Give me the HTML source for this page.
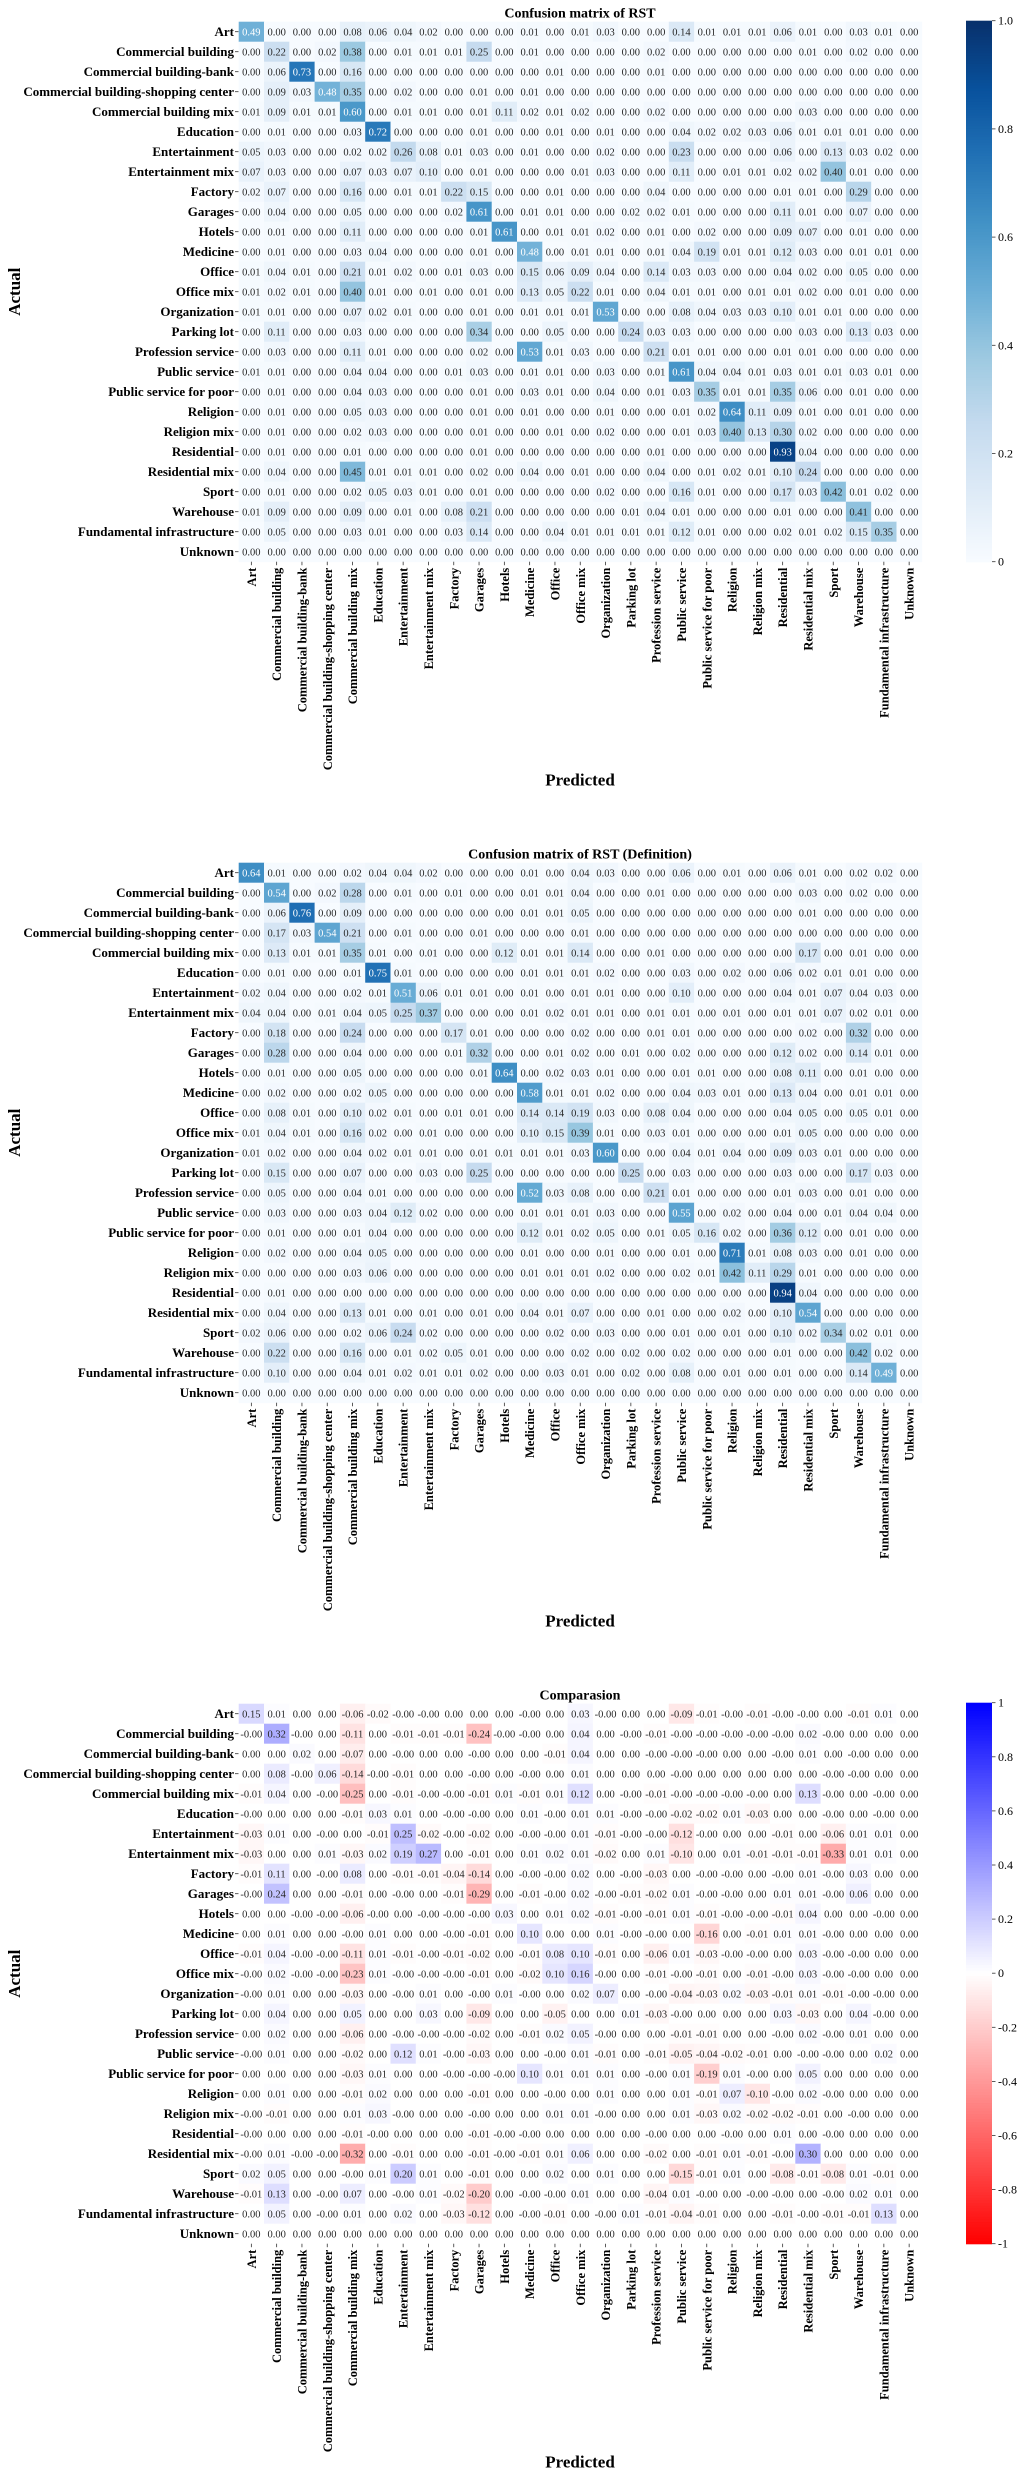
<!DOCTYPE html>
<html><head><meta charset="utf-8"><style>
html,body{margin:0;padding:0;background:#fff;}
svg{display:block;font-family:"Liberation Serif",serif;}
</style></head><body>
<svg id="chart" width="1026" height="2480" viewBox="0 0 1026 2480" xmlns="http://www.w3.org/2000/svg"></svg>
<script>
const categories=["Art","Commercial building","Commercial building-bank","Commercial building-shopping center","Commercial building mix","Education","Entertainment","Entertainment mix","Factory","Garages","Hotels","Medicine","Office","Office mix","Organization","Parking lot","Profession service","Public service","Public service for poor","Religion","Religion mix","Residential","Residential mix","Sport","Warehouse","Fundamental infrastructure","Unknown"];
const titles=["Confusion matrix of RST","Confusion matrix of RST (Definition)","Comparasion"];
const blueTicks=[0,0.2,0.4,0.6,0.8,1.0];
const blueTickLabels=["0","0.2","0.4","0.6","0.8","1.0"];
const bwrTicks=[-1,-0.8,-0.6,-0.4,-0.2,0,0.2,0.4,0.6,0.8,1];
const bwrTickLabels=["-1","-0.8","-0.6","-0.4","-0.2","0","0.2","0.4","0.6","0.8","1"];
const Z=[0,0,0,0,0,0,0,0,0,0,0,0,0,0,0,0,0,0,0,0,0,0,0,0,0,0,0];
const rst=[
[0.49,0,0,0,0.08,0.06,0.04,0.02,0,0,0,0.01,0,0.01,0.03,0,0,0.14,0.01,0.01,0.01,0.06,0.01,0,0.03,0.01,0],
[0,0.22,0,0.02,0.38,0,0.01,0.01,0.01,0.25,0,0.01,0,0,0,0,0.02,0,0,0,0,0,0.01,0,0.02,0,0],
[0,0.06,0.73,0,0.16,0,0,0,0,0,0,0,0.01,0,0,0,0.01,0,0,0,0,0,0,0,0,0,0],
[0,0.09,0.03,0.48,0.35,0,0.02,0,0,0.01,0,0.01,0,0,0,0,0,0,0,0,0,0,0,0,0,0,0],
[0.01,0.09,0.01,0.01,0.60,0,0.01,0.01,0,0.01,0.11,0.02,0.01,0.02,0,0,0.02,0,0,0,0,0,0.03,0,0,0,0],
[0,0.01,0,0,0.03,0.72,0,0,0,0.01,0,0,0.01,0,0.01,0,0,0.04,0.02,0.02,0.03,0.06,0.01,0.01,0.01,0,0],
[0.05,0.03,0,0,0.02,0.02,0.26,0.08,0.01,0.03,0,0.01,0,0,0.02,0,0,0.23,0,0,0,0.06,0,0.13,0.03,0.02,0],
[0.07,0.03,0,0,0.07,0.03,0.07,0.10,0,0.01,0,0,0,0.01,0.03,0,0,0.11,0,0.01,0.01,0.02,0.02,0.40,0.01,0,0],
[0.02,0.07,0,0,0.16,0,0.01,0.01,0.22,0.15,0,0,0.01,0,0,0,0.04,0,0,0,0,0.01,0.01,0,0.29,0,0],
[0,0.04,0,0,0.05,0,0,0,0.02,0.61,0,0.01,0.01,0,0,0.02,0.02,0.01,0,0,0,0.11,0.01,0,0.07,0,0],
[0,0.01,0,0,0.11,0,0,0,0,0.01,0.61,0,0.01,0.01,0.02,0,0.01,0,0.02,0,0,0.09,0.07,0,0.01,0,0],
[0,0.01,0,0,0.03,0.04,0,0,0,0.01,0,0.48,0,0.01,0.01,0,0.01,0.04,0.19,0.01,0.01,0.12,0.03,0,0.01,0.01,0],
[0.01,0.04,0.01,0,0.21,0.01,0.02,0,0.01,0.03,0,0.15,0.06,0.09,0.04,0,0.14,0.03,0.03,0,0,0.04,0.02,0,0.05,0,0],
[0.01,0.02,0.01,0,0.40,0.01,0,0.01,0,0.01,0,0.13,0.05,0.22,0.01,0,0.04,0.01,0.01,0,0.01,0.01,0.02,0,0.01,0,0],
[0.01,0.01,0,0,0.07,0.02,0.01,0,0,0.01,0,0.01,0.01,0.01,0.53,0,0,0.08,0.04,0.03,0.03,0.10,0.01,0.01,0,0,0],
[0,0.11,0,0,0.03,0,0,0,0,0.34,0,0,0.05,0,0,0.24,0.03,0.03,0,0,0,0,0.03,0,0.13,0.03,0],
[0,0.03,0,0,0.11,0.01,0,0,0,0.02,0,0.53,0.01,0.03,0,0,0.21,0.01,0.01,0,0,0.01,0.01,0,0,0,0],
[0.01,0.01,0,0,0.04,0.04,0,0,0.01,0.03,0,0.01,0.01,0,0.03,0,0.01,0.61,0.04,0.04,0.01,0.03,0.01,0.01,0.03,0.01,0],
[0,0.01,0,0,0.04,0.03,0,0,0,0.01,0,0.03,0.01,0,0.04,0,0.01,0.03,0.35,0.01,0.01,0.35,0.06,0,0.01,0,0],
[0,0.01,0,0,0.05,0.03,0,0,0,0.01,0,0.01,0,0,0.01,0,0,0.01,0.02,0.64,0.11,0.09,0.01,0,0.01,0,0],
[0,0.01,0,0,0.02,0.03,0,0,0,0.01,0,0,0.01,0,0.02,0,0,0.01,0.03,0.40,0.13,0.30,0.02,0,0,0,0],
[0,0.01,0,0,0.01,0,0,0,0,0.01,0,0,0,0,0,0,0.01,0,0,0,0,0.93,0.04,0,0,0,0],
[0,0.04,0,0,0.45,0.01,0.01,0.01,0,0.02,0,0.04,0,0.01,0,0,0.04,0,0.01,0.02,0.01,0.10,0.24,0,0,0,0],
[0,0.01,0,0,0.02,0.05,0.03,0.01,0,0.01,0,0,0,0,0.02,0,0,0.16,0.01,0,0,0.17,0.03,0.42,0.01,0.02,0],
[0.01,0.09,0,0,0.09,0,0.01,0,0.08,0.21,0,0,0,0,0,0.01,0.04,0.01,0,0,0,0.01,0,0,0.41,0,0],
[0,0.05,0,0,0.03,0.01,0,0,0.03,0.14,0,0,0.04,0.01,0.01,0.01,0.01,0.12,0.01,0,0,0.02,0.01,0.02,0.15,0.35,0],
Z];
const rstDef=[
[0.64,0.01,0,0,0.02,0.04,0.04,0.02,0,0,0,0.01,0,0.04,0.03,0,0,0.06,0,0.01,0,0.06,0.01,0,0.02,0.02,0],
[0,0.54,0,0.02,0.28,0,0.01,0,0.01,0,0,0.01,0.01,0.04,0,0,0.01,0,0,0,0,0,0.03,0,0.02,0,0],
[0,0.06,0.76,0,0.09,0,0,0,0,0,0,0.01,0.01,0.05,0,0,0,0,0,0,0,0,0.01,0,0,0,0],
[0,0.17,0.03,0.54,0.21,0,0.01,0,0,0.01,0,0,0,0.01,0,0,0,0,0,0,0,0,0,0,0,0,0],
[0,0.13,0.01,0.01,0.35,0.01,0,0.01,0,0,0.12,0.01,0.01,0.14,0,0,0.01,0,0,0,0,0,0.17,0,0.01,0,0],
[0,0.01,0,0,0.01,0.75,0.01,0,0,0,0,0.01,0.01,0.01,0.02,0,0,0.03,0,0.02,0,0.06,0.02,0.01,0.01,0,0],
[0.02,0.04,0,0,0.02,0.01,0.51,0.06,0.01,0.01,0,0.01,0,0.01,0.01,0,0,0.10,0,0,0,0.04,0.01,0.07,0.04,0.03,0],
[0.04,0.04,0,0.01,0.04,0.05,0.25,0.37,0,0,0,0.01,0.02,0.01,0.01,0,0.01,0.01,0,0.01,0,0.01,0.01,0.07,0.02,0.01,0],
[0,0.18,0,0,0.24,0,0,0,0.17,0.01,0,0,0,0.02,0,0,0.01,0.01,0,0,0,0,0.02,0,0.32,0,0],
[0,0.28,0,0,0.04,0,0,0,0.01,0.32,0,0,0.01,0.02,0,0.01,0,0.02,0,0,0,0.12,0.02,0,0.14,0.01,0],
[0,0.01,0,0,0.05,0,0,0,0,0.01,0.64,0,0.02,0.03,0.01,0,0,0.01,0.01,0,0,0.08,0.11,0,0.01,0,0],
[0,0.02,0,0,0.02,0.05,0,0,0,0,0,0.58,0.01,0.01,0.02,0,0,0.04,0.03,0.01,0,0.13,0.04,0,0.01,0.01,0],
[0,0.08,0.01,0,0.10,0.02,0.01,0,0.01,0.01,0,0.14,0.14,0.19,0.03,0,0.08,0.04,0,0,0,0.04,0.05,0,0.05,0.01,0],
[0.01,0.04,0.01,0,0.16,0.02,0,0.01,0,0,0,0.10,0.15,0.39,0.01,0,0.03,0.01,0,0,0,0.01,0.05,0,0,0,0],
[0.01,0.02,0,0,0.04,0.02,0.01,0.01,0,0.01,0.01,0.01,0.01,0.03,0.60,0,0,0.04,0.01,0.04,0,0.09,0.03,0.01,0,0,0],
[0,0.15,0,0,0.07,0,0,0.03,0,0.25,0,0,0,0,0,0.25,0,0.03,0,0,0,0.03,0,0,0.17,0.03,0],
[0,0.05,0,0,0.04,0.01,0,0,0,0,0,0.52,0.03,0.08,0,0,0.21,0.01,0,0,0,0.01,0.03,0,0.01,0,0],
[0,0.03,0,0,0.03,0.04,0.12,0.02,0,0,0,0.01,0.01,0.01,0.03,0,0,0.55,0,0.02,0,0.04,0,0.01,0.04,0.04,0],
[0,0.01,0,0,0.01,0.04,0,0,0,0,0,0.12,0.01,0.02,0.05,0,0.01,0.05,0.16,0.02,0,0.36,0.12,0,0.01,0,0],
[0,0.02,0,0,0.04,0.05,0,0,0,0,0,0.01,0,0,0.01,0,0,0.01,0,0.71,0.01,0.08,0.03,0,0.01,0,0],
[0,0,0,0,0.03,0.06,0,0,0,0,0,0.01,0.01,0.01,0.02,0,0,0.02,0.01,0.42,0.11,0.29,0.01,0,0,0,0],
[0,0.01,0,0,0,0,0,0,0,0,0,0,0,0,0,0,0,0,0,0,0,0.94,0.04,0,0,0,0],
[0,0.04,0,0,0.13,0.01,0,0.01,0,0.01,0,0.04,0.01,0.07,0,0,0.01,0,0,0.02,0,0.10,0.54,0,0,0,0],
[0.02,0.06,0,0,0.02,0.06,0.24,0.02,0,0,0,0,0.02,0,0.03,0,0,0.01,0,0.01,0,0.10,0.02,0.34,0.02,0.01,0],
[0,0.22,0,0,0.16,0,0.01,0.02,0.05,0.01,0,0,0,0.02,0,0.02,0,0.02,0,0,0,0.01,0,0,0.42,0.02,0],
[0,0.10,0,0,0.04,0.01,0.02,0.01,0.01,0.02,0,0,0.03,0.01,0,0.02,0,0.08,0,0.01,0,0.01,0,0,0.14,0.49,0],
Z];
const diff=[
[0.15,0.01,0.00,0.00,-0.06,-0.02,-0.00,-0.00,0.00,0.00,0.00,-0.00,0.00,0.03,-0.00,0.00,0.00,-0.09,-0.01,-0.00,-0.01,-0.00,-0.00,0.00,-0.01,0.01,0.00],
[-0.00,0.32,-0.00,0.00,-0.11,0.00,-0.01,-0.01,-0.01,-0.24,-0.00,-0.00,0.00,0.04,0.00,-0.00,-0.01,-0.00,-0.00,-0.00,-0.00,-0.00,0.02,-0.00,0.00,0.00,0.00],
[0.00,0.00,0.02,0.00,-0.07,0.00,-0.00,0.00,0.00,-0.00,0.00,0.00,-0.01,0.04,0.00,0.00,-0.00,-0.00,-0.00,0.00,0.00,-0.00,0.01,0.00,-0.00,0.00,0.00],
[0.00,0.08,-0.00,0.06,-0.14,-0.00,-0.01,0.00,0.00,-0.00,0.00,-0.00,0.00,0.01,0.00,0.00,0.00,-0.00,0.00,0.00,0.00,0.00,0.00,-0.00,-0.00,0.00,0.00],
[-0.01,0.04,0.00,-0.00,-0.25,0.00,-0.01,-0.00,-0.00,-0.01,0.01,-0.01,0.01,0.12,0.00,-0.00,-0.01,-0.00,-0.00,-0.00,-0.00,0.00,0.13,-0.00,0.00,-0.00,0.00],
[-0.00,0.00,0.00,0.00,-0.01,0.03,0.01,0.00,-0.00,-0.00,0.00,0.01,-0.00,0.01,0.01,-0.00,-0.00,-0.02,-0.02,0.01,-0.03,0.00,0.00,-0.00,0.00,-0.00,0.00],
[-0.03,0.01,0.00,-0.00,0.00,-0.01,0.25,-0.02,-0.00,-0.02,0.00,-0.00,-0.00,0.01,-0.01,-0.00,-0.00,-0.12,-0.00,0.00,0.00,-0.01,0.00,-0.06,0.01,0.01,0.00],
[-0.03,0.00,0.00,0.01,-0.03,0.02,0.19,0.27,0.00,-0.01,0.00,0.01,0.02,0.01,-0.02,0.00,0.01,-0.10,0.00,0.01,-0.01,-0.01,-0.01,-0.33,0.01,0.01,0.00],
[-0.01,0.11,0.00,-0.00,0.08,0.00,-0.01,-0.01,-0.04,-0.14,0.00,-0.00,-0.00,0.02,0.00,-0.00,-0.03,0.00,-0.00,-0.00,0.00,-0.00,0.01,-0.00,0.03,0.00,0.00],
[-0.00,0.24,0.00,0.00,-0.01,0.00,-0.00,0.00,-0.01,-0.29,0.00,-0.01,-0.00,0.02,-0.00,-0.01,-0.02,0.01,-0.00,-0.00,0.00,0.01,0.01,-0.00,0.06,0.00,0.00],
[0.00,0.00,-0.00,-0.00,-0.06,-0.00,0.00,-0.00,-0.00,-0.00,0.03,0.00,0.01,0.02,-0.01,-0.00,-0.01,0.01,-0.01,-0.00,-0.00,-0.01,0.04,0.00,0.00,-0.00,0.00],
[0.00,0.01,0.00,0.00,-0.00,0.01,0.00,0.00,-0.00,-0.01,0.00,0.10,0.00,0.00,0.01,-0.00,-0.00,0.00,-0.16,0.00,-0.01,0.01,0.01,-0.00,0.00,0.00,0.00],
[-0.01,0.04,-0.00,-0.00,-0.11,0.01,-0.01,-0.00,-0.01,-0.02,0.00,-0.01,0.08,0.10,-0.01,0.00,-0.06,0.01,-0.03,-0.00,-0.00,0.00,0.03,-0.00,-0.00,0.00,0.00],
[-0.00,0.02,-0.00,-0.00,-0.23,0.01,-0.00,-0.00,-0.00,-0.01,0.00,-0.02,0.10,0.16,-0.00,0.00,-0.01,-0.00,-0.01,0.00,-0.01,-0.00,0.03,-0.00,-0.00,0.00,0.00],
[-0.00,0.01,0.00,0.00,-0.03,0.00,-0.00,0.01,0.00,-0.00,0.01,-0.00,0.00,0.02,0.07,0.00,-0.00,-0.04,-0.03,0.02,-0.03,-0.01,0.01,-0.01,-0.00,-0.00,0.00],
[0.00,0.04,0.00,0.00,0.05,0.00,0.00,0.03,0.00,-0.09,0.00,0.00,-0.05,0.00,0.00,0.01,-0.03,-0.00,0.00,0.00,0.00,0.03,-0.03,0.00,0.04,-0.00,0.00],
[0.00,0.02,0.00,0.00,-0.06,0.00,-0.00,-0.00,-0.00,-0.02,0.00,-0.01,0.02,0.05,-0.00,0.00,0.00,-0.01,-0.01,0.00,0.00,-0.00,0.02,-0.00,0.01,0.00,0.00],
[-0.00,0.01,0.00,0.00,-0.02,0.00,0.12,0.01,-0.00,-0.03,0.00,0.00,-0.00,0.01,-0.01,0.00,-0.01,-0.05,-0.04,-0.02,-0.01,0.00,-0.00,-0.00,0.00,0.02,0.00],
[0.00,0.00,0.00,0.00,-0.03,0.01,0.00,0.00,-0.00,-0.00,-0.00,0.10,0.01,0.01,0.01,0.00,-0.00,0.01,-0.19,0.01,-0.00,0.00,0.05,0.00,0.00,0.00,0.00],
[0.00,0.01,0.00,0.00,-0.01,0.02,0.00,0.00,0.00,-0.01,0.00,0.00,-0.00,0.00,0.01,0.00,0.00,0.01,-0.01,0.07,-0.10,-0.00,0.02,-0.00,0.00,0.00,0.00],
[-0.00,-0.01,0.00,0.00,0.01,0.03,-0.00,0.00,0.00,-0.00,0.00,0.00,0.01,0.01,-0.00,0.00,0.00,0.01,-0.03,0.02,-0.02,-0.02,-0.01,0.00,-0.00,0.00,0.00],
[-0.00,0.00,0.00,0.00,-0.01,-0.00,0.00,0.00,0.00,-0.01,-0.00,-0.00,0.00,0.00,0.00,0.00,-0.00,0.00,0.00,-0.00,0.00,0.01,0.00,-0.00,0.00,0.00,0.00],
[-0.00,0.01,-0.00,-0.00,-0.32,0.00,-0.01,0.00,0.00,-0.01,-0.00,-0.01,0.01,0.06,0.00,0.00,-0.02,0.00,-0.01,0.01,-0.01,-0.00,0.30,0.00,0.00,0.00,0.00],
[0.02,0.05,0.00,0.00,-0.00,0.01,0.20,0.01,0.00,-0.01,0.00,0.00,0.02,0.00,0.01,0.00,0.00,-0.15,-0.01,0.01,0.00,-0.08,-0.01,-0.08,0.01,-0.01,0.00],
[-0.01,0.13,0.00,-0.00,0.07,0.00,-0.00,0.01,-0.02,-0.20,0.00,-0.00,-0.00,0.01,0.00,0.00,-0.04,0.01,-0.00,0.00,-0.00,-0.00,0.00,-0.00,0.02,0.01,0.00],
[0.00,0.05,0.00,-0.00,0.01,0.00,0.02,0.00,-0.03,-0.12,0.00,-0.00,-0.01,0.00,-0.00,0.01,-0.01,-0.04,-0.01,0.00,0.00,-0.01,-0.00,-0.01,-0.01,0.13,0.00],
Z];

const NS="http://www.w3.org/2000/svg";
const svg=document.getElementById('chart');
const X0=238.7, CW=25.3, CH=20, N=27;
const tops=[21.7,862.7,1703.7];
function xPos(i){return X0+i*CW;}
function yPos(t,i){return tops[t]+i*CH;}
function mk(tag,attrs,parent){const e=document.createElementNS(NS,tag);for(const k in attrs)e.setAttribute(k,attrs[k]);(parent||svg).appendChild(e);return e;}
const blues=[[247,251,255],[222,235,247],[198,219,239],[158,202,225],[107,174,214],[66,146,198],[33,113,181],[8,81,156],[8,48,107]];
function bluesColor(v){v=Math.max(0,Math.min(1,v));const p=v*8,i=Math.min(7,Math.floor(p)),f=p-i;const a=blues[i],b=blues[i+1];return [0,1,2].map(k=>Math.round(a[k]+(b[k]-a[k])*f));}
function bwrColor(v){v=Math.max(-1,Math.min(1,v));if(v>=0){const c=Math.round(255*(1-v));return [c,c,255];}const c=Math.round(255*(1+v));return [255,c,c];}
function lum(c){const l=c.map(x=>{x/=255;return x<=0.03928?x/12.92:Math.pow((x+0.055)/1.055,2.4);});return 0.2126*l[0]+0.7152*l[1]+0.0722*l[2];}
function fmt(v){const neg=v<0||Object.is(v,-0);return (neg?'-':'')+Math.abs(v).toFixed(2);}
const mats=[rst,rstDef,diff];
mats.forEach((m,t)=>{
  const g=mk('g',{});
  
  
  const title=mk('text',{x:580,y:tops[t]-4,'text-anchor':'middle','font-size':14,'font-weight':'bold',fill:'#000'},g);
  title.textContent=titles[t];
  
  
  for(let r=0;r<N;r++){for(let c=0;c<N;c++){
    const v=m[r][c];const col=t<2?bluesColor(v):bwrColor(v);
    const rect=mk('rect',{x:xPos(c).toFixed(2),y:yPos(t,r).toFixed(2),width:CW+0.4,height:CH+0.4,fill:'rgb('+col.join(',')+')'},g);
    
    
    const tx=mk('text',{x:(xPos(c)+CW/2).toFixed(2),y:(yPos(t,r)+CH/2+3.8).toFixed(2),'text-anchor':'middle','font-size':10.5,fill:lum(col)>0.408?'#262626':'#ffffff'},g);
    tx.textContent=fmt(v);
    
    
  }}
  categories.forEach((cat,i)=>{
    const yl=mk('text',{x:234,y:(yPos(t,i)+CH/2+4.5).toFixed(2),'text-anchor':'end','font-size':13,'font-weight':'bold',fill:'#000'},g);
    yl.textContent=cat;
    
    
    mk('line',{x1:235,x2:238.5,y1:yPos(t,i)+CH/2,y2:yPos(t,i)+CH/2,stroke:'#333','stroke-width':0.8},g);
    const bx=xPos(i)+CW/2, by=tops[t]+N*CH;
    mk('line',{x1:bx,x2:bx,y1:by,y2:by+3.5,stroke:'#333','stroke-width':0.8},g);
    const xl=mk('text',{x:0,y:0,'text-anchor':'end','font-size':12.5,'font-weight':'bold',fill:'#000',transform:'translate('+(bx+4.5).toFixed(2)+','+(by+6)+') rotate(-90)'},g);
    xl.textContent=cat;
    
    
  });
  const ya=mk('text',{x:0,y:0,'text-anchor':'middle','font-size':17,'font-weight':'bold',fill:'#000',transform:'translate(20,'+(tops[t]+N*CH/2)+') rotate(-90)'},g);
  ya.textContent='Actual';
  
  
  const xa=mk('text',{x:580,y:tops[t]+764,'text-anchor':'middle','font-size':17,'font-weight':'bold',fill:'#000'},g);
  xa.textContent='Predicted';
  
  
});
function colorbar(t,vmin,vmax,colorFn,ticks,labels,name){
  const g=mk('g',{});
  
  
  const top=tops[t]-1, h=N*CH+1, x=966, w=26, steps=200;
  for(let s=0;s<steps;s++){
    const v=vmax-(s+0.5)/steps*(vmax-vmin);const c=colorFn(v);
    mk('rect',{x:x,y:(top+s*h/steps).toFixed(2),width:w,height:(h/steps+0.6).toFixed(2),fill:'rgb('+c.join(',')+')'},g);
  }
  ticks.forEach((v,i)=>{
    const y=top+(vmax-v)/(vmax-vmin)*h;
    mk('line',{x1:x+w,x2:x+w+3.5,y1:y,y2:y,stroke:'#333','stroke-width':0.8},g);
    const tl=mk('text',{x:x+w+6,y:(y+4).toFixed(2),'font-size':12,fill:'#000'},g);
    tl.textContent=labels[i];
    
    
  });
}
colorbar(0,0,1,bluesColor,blueTicks,blueTickLabels,'colorbar-blues');
colorbar(2,-1,1,bwrColor,bwrTicks,bwrTickLabels,'colorbar-bwr');
</script>
</body></html>
